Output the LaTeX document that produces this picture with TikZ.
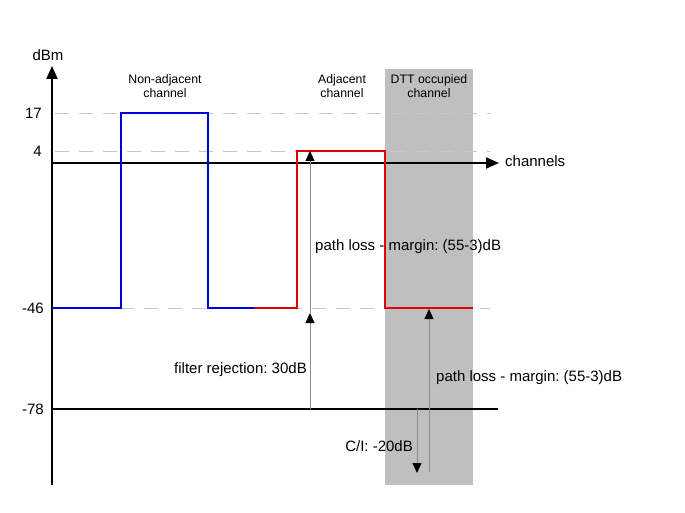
\documentclass[tikz,border=0pt]{standalone}
\usepackage{fontspec}
\setmainfont{Liberation Sans}
\usetikzlibrary{arrows.meta}

\begin{document}
\frenchspacing
\begin{tikzpicture}[
  x=1pt, y=-1pt,
  font=\fontsize{15}{17}\selectfont,
  axis/.style={line width=2pt, -{Triangle[width=11pt,length=13pt]}},
  lvl/.style={draw=black!22, line width=0.8pt, dash pattern=on 14pt off 10pt},
  sig/.style={line width=2pt},
  arr/.style={draw=black!45, line width=0.8pt,
              -{Triangle[width=9pt,length=10pt,black]}},
  ttl/.style={align=center, inner sep=0pt,
              font=\fontsize{12.3}{14}\selectfont},
  lab/.style={inner sep=0pt},
  tick/.style={anchor=east, inner sep=0pt}
]
\useasboundingbox (0,0) rectangle (685,513);

% DTT occupied channel
\fill[black!25] (385,69) rectangle (473,485);

% levels
\draw[lvl] (55,113) -- (490,113);
\draw[lvl] (55,151) -- (490,151);
\draw[lvl] (120,308) -- (490,308);

% axes
\coordinate (o) at (52,485);
\coordinate (ytop) at (52,66);
\coordinate (x0) at (52,163);
\coordinate (xend) at (499,163);
\draw[axis] (o) -- (ytop);
\draw[axis] (x0) -- (xend);
\draw[sig] (52,409) -- (498,409);

\node[lab] (dbm) at (48,55) {dBm};
\node[lab, anchor=west] (chan) at (505,161) {channels};
\node[tick] (t17) at (42,113) {17};
\node[tick] (t4) at (42,151) {4};
\node[tick] (t46) at (44,308) {-46};
\node[tick] (t78) at (44,409) {-78};

% channel spectra
\draw[sig, blue!85!black] (52,308) -- (121,308) -- (121,113) -- (208,113)
  -- (208,308) -- (255,308);
\draw[sig, red!90!black] (255,308) -- (297,308) -- (297,151) -- (385,151)
  -- (385,308) -- (473,308);

\node[ttl] (nadj) at (165,86) {Non-adjacent\\channel};
\node[ttl] (adj) at (342,86) {Adjacent\\channel};
\node[ttl] (dtt) at (429,86) {DTT occupied\\channel};

% level differences
\coordinate (a78) at (310,409);
\coordinate (a46) at (310,313);
\coordinate (a4) at (310,151);
\coordinate (b0) at (429,472);
\coordinate (b46) at (429,309);
\coordinate (c78) at (417,409);
\coordinate (c0) at (417,473);
\draw[arr] (a78) -- (a46);
\draw[arr] (a46) -- (a4);
\draw[arr] (b0) -- (b46);
\draw[arr] (c78) -- (c0);

\node[lab, anchor=west] (pl1) at (315,247) {path loss - margin: (55-3)dB};
\node[lab, anchor=east] (fr) at (307,370) {filter rejection: 30dB};
\node[lab, anchor=west] (pl2) at (436,378) {path loss - margin: (55-3)dB};
\node[lab, anchor=east] (ci) at (413,446) {C/I: -20dB};
\end{tikzpicture}
\end{document}
